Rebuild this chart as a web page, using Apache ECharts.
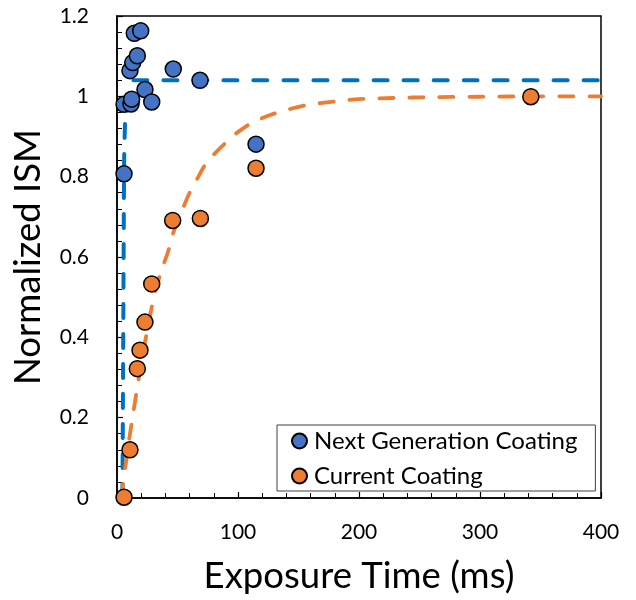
<!DOCTYPE html>
<html>
<head>
<meta charset="utf-8">
<script src="https://cdn.jsdelivr.net/npm/echarts@6/dist/echarts.min.js"></script>
<style>html,body{margin:0;padding:0;background:#fff}#c{width:636px;height:600px}</style>
</head>
<body>
<div id="c"></div>
<script>
// Next Generation Coating measurements [exposure ms, normalized ISM]
const nextGenPoints = [
  [5.8, 0.807], [5.8, 0.980], [10.7, 1.064], [11.6, 0.981], [12.1, 0.993],
  [13.0, 1.084], [14.3, 1.157], [16.8, 1.101], [19.6, 1.163], [23.1, 1.017],
  [28.7, 0.986], [46.5, 1.068], [68.6, 1.040], [114.9, 0.881]
];
// Current Coating measurements
const currentPoints = [
  [5.8, 0.002], [10.7, 0.120], [16.8, 0.322], [19.0, 0.368], [23.1, 0.438],
  [28.7, 0.533], [46.0, 0.691], [68.9, 0.696], [114.9, 0.821], [342.0, 0.999]
];
// Dashed fit curves
const nextGenFit = [
  [4.5, 0.0], [5.0, 0.30], [5.5, 0.62], [5.9, 0.84], [6.6, 0.93], [8.0, 0.99],
  [10.0, 1.025], [13.0, 1.04], [400, 1.04]
];
const currentFit = [
  [4.0, 0.0], [5.2, 0.045], [8.0, 0.10], [10.0, 0.145], [13.5, 0.213], [17.0, 0.28],
  [20.0, 0.335], [23.1, 0.387], [27.0, 0.45], [31.4, 0.511], [36.0, 0.56],
  [42.4, 0.615], [46.5, 0.66], [53.0, 0.71], [60.0, 0.76], [66.0, 0.793],
  [73.0, 0.83], [80.0, 0.855], [90.0, 0.885], [99.0, 0.909], [112.0, 0.935],
  [126.0, 0.953], [140.0, 0.966], [155.0, 0.977], [168.0, 0.983], [185.0, 0.989],
  [200.0, 0.993], [230.0, 0.996], [260.0, 0.998], [300.0, 0.999], [350.0, 1.0], [400.0, 1.0]
];
const seriesNames = ['Next Generation Coating', 'Current Coating'];
const xTitle = 'Exposure Time (ms)';
const yTitle = 'Normalized ISM';

const FONT = 'Lato';
const chart = echarts.init(document.getElementById('c'), null, {renderer: 'canvas'});
const axisCommon = {
  axisLine: {show: true, onZero: false, lineStyle: {color: '#000', width: 1.5}},
  axisTick: {show: true, inside: true, length: 6, lineStyle: {color: '#000', width: 1.2}},
  minorTick: {show: true, splitNumber: 5, length: 5, lineStyle: {color: '#000', width: 1}},
  splitLine: {show: false},
  axisLabel: {color: '#000', fontFamily: FONT, fontSize: 21},
  nameTextStyle: {color: '#000', fontFamily: FONT, fontSize: 36.5},
  nameLocation: 'middle'
};
chart.setOption({
  animation: false,
  backgroundColor: '#fff',
  grid: {left: 117, right: 35, top: 16, bottom: 101, show: true, borderColor: '#000', borderWidth: 1.5, containLabel: false},
  legend: {
    left: 277, top: 425, orient: 'vertical',
    data: seriesNames,
    itemWidth: 15, itemHeight: 15, itemGap: 11,
    padding: [4, 18, 3, 14],
    borderColor: '#404040', borderWidth: 1, backgroundColor: '#fff',
    textStyle: {color: '#000', fontFamily: FONT, fontSize: 24, lineHeight: 24, padding: [0, 0, 0, 2]}
  },
  xAxis: Object.assign({}, axisCommon, {
    type: 'value', min: 0, max: 400, interval: 100, name: xTitle, nameGap: 60,
    axisLabel: Object.assign({}, axisCommon.axisLabel, {margin: 24})
  }),
  yAxis: Object.assign({}, axisCommon, {
    type: 'value', min: 0, max: 1.2, interval: 0.2, name: yTitle, nameGap: 70,
    axisLabel: Object.assign({}, axisCommon.axisLabel, {margin: 28})
  }),
  series: [
    {type: 'line', data: nextGenFit, smooth: 0.2, symbol: 'none', silent: true, z: 1,
     lineStyle: {color: '#0070C0', width: 4, type: [14, 16], cap: 'round'}},
    {type: 'line', data: currentFit, smooth: 0.3, symbol: 'none', silent: true, z: 1,
     lineStyle: {color: '#ED7D31', width: 3.8, type: [14, 16], cap: 'round'}},
    {name: seriesNames[0], type: 'scatter', data: nextGenPoints, symbolSize: 16, clip: false, z: 3,
     itemStyle: {color: '#4472C4', borderColor: '#000', borderWidth: 1.5, opacity: 1}},
    {name: seriesNames[1], type: 'scatter', data: currentPoints, symbolSize: 16, clip: false, z: 3,
     itemStyle: {color: '#ED7D31', borderColor: '#000', borderWidth: 1.5, opacity: 1}}
  ]
});
</script>
</body>
</html>
